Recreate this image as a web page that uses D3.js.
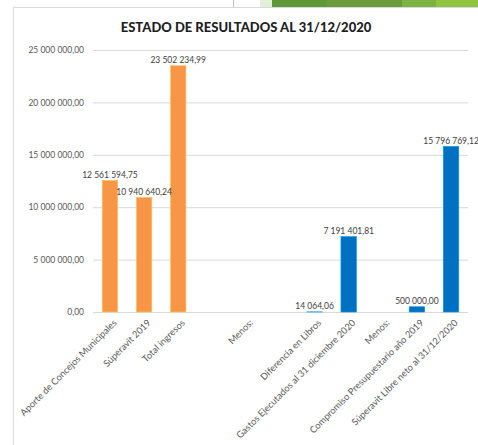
<!DOCTYPE html>
<html>
<head>
<meta charset="utf-8">
<script src="https://cdn.jsdelivr.net/npm/d3@7"></script>
<style>
  body { margin: 0; background: #fff; }
  svg { display: block; font-family: Lato, "Open Sans", sans-serif; }
</style>
</head>
<body>
<div id="chart"></div>
<script>
// ---- data ----
const categories = [
  "Aporte de Concejos Municipales",
  "Súperavit 2019",
  "Total ingresos",
  "",
  "Menos:",
  "",
  "Diferencia en Libros",
  "Gastos Ejecutados al 31 diciembre 2020",
  "Menos:",
  "Compromiso Presupuestario año 2019",
  "Súperavit Libre neto al 31/12/2020"
];
const values = [12561594.75, 10940640.24, 23502234.99, null, null, null,
                14064.06, 7191401.81, null, 500000.00, 15796769.12];
const groups = ["ingreso", "ingreso", "ingreso", null, null, null,
                "egreso", "egreso", null, "egreso", "egreso"];
const yTicks = [0, 5000000, 10000000, 15000000, 20000000, 25000000];
const title = "ESTADO DE RESULTADOS AL 31/12/2020";

const W = 478, H = 445;
const margin = { left: 93, right: 10, top: 50, bottom: 133 };
const COLORS = { ingreso: "#F79646", egreso: "#0070C0" };

// Spanish-style number: space thousands, comma decimals
const fmt = v => d3.format(",.2f")(v).replace(/,/g, " ").replace(".", ",");

const svg = d3.select("#chart").append("svg")
  .attr("width", W).attr("height", H);

// slide decoration at the top
const deco = svg.append("g");
deco.append("line").attr("x1", 233.5).attr("x2", 233.5).attr("y1", 0).attr("y2", 7)
  .attr("stroke", "#bfbfbf");
[[260, 12, "#e3efd6"], [272, 54, "#5f9838"], [326, 76, "#6a9c3c"],
 [402, 34, "#7db341"], [436, 42, "#8fc440"]].forEach(([x, w, c]) =>
  deco.append("rect").attr("x", x).attr("y", 0).attr("width", w).attr("height", 7).attr("fill", c));

// chart frame
svg.append("rect").attr("x", 13.5).attr("y", 7.5)
  .attr("width", W).attr("height", H)
  .attr("fill", "#fff").attr("stroke", "#d9d9d9");

svg.append("text")
  .attr("x", 246).attr("y", 32)
  .attr("text-anchor", "middle")
  .attr("font-size", 13).attr("font-weight", 900)
  .attr("fill", "#1e1e1e")
  .text(title);

const x = d3.scaleBand()
  .domain(d3.range(categories.length))
  .range([margin.left, W - margin.right])
  .paddingInner(0.545).paddingOuter(0.27);

const y = d3.scaleLinear()
  .domain([0, 25000000])
  .range([H - margin.bottom, margin.top]);

// gridlines + y labels
const yAxis = svg.append("g")
  .call(d3.axisLeft(y).tickValues(yTicks).tickFormat(fmt)
    .tickSize(-(W - margin.right - margin.left)).tickPadding(9))
  .attr("transform", `translate(${margin.left},0)`);
yAxis.select(".domain").remove();
yAxis.selectAll("line").attr("stroke", "#d9d9d9");
yAxis.selectAll("text").attr("fill", "#595959").attr("font-size", 8.5)
  .attr("font-family", "Lato, sans-serif");

// bars
const idx = d3.range(categories.length).filter(i => values[i] != null);
svg.append("g").selectAll("rect")
  .data(idx).enter().append("rect")
  .attr("x", i => x(i))
  .attr("y", i => y(values[i]))
  .attr("width", x.bandwidth())
  .attr("height", i => y(0) - y(values[i]))
  .attr("fill", i => COLORS[groups[i]])
  .attr("stroke", i => d3.color(COLORS[groups[i]]).brighter(0.8))
  .attr("stroke-width", 0.6);

// data labels
svg.append("g").selectAll("text")
  .data(idx).enter().append("text")
  .attr("x", i => x(i) + x.bandwidth() / 2)
  .attr("y", i => y(values[i]) - 2.5)
  .attr("text-anchor", "middle")
  .attr("font-size", 8.5).attr("fill", "#404040")
  .text(i => fmt(values[i]));

// x labels
svg.append("g").selectAll("text")
  .data(d3.range(categories.length)).enter().append("text")
  .attr("transform", i => `translate(${x(i) + x.bandwidth() / 2 + 5},${y(0) + 9}) rotate(-45)`)
  .attr("text-anchor", "end")
  .attr("dy", "0.35em")
  .attr("font-size", 9.3).attr("fill", "#595959")
  .text(i => categories[i]);
</script>
</body>
</html>
